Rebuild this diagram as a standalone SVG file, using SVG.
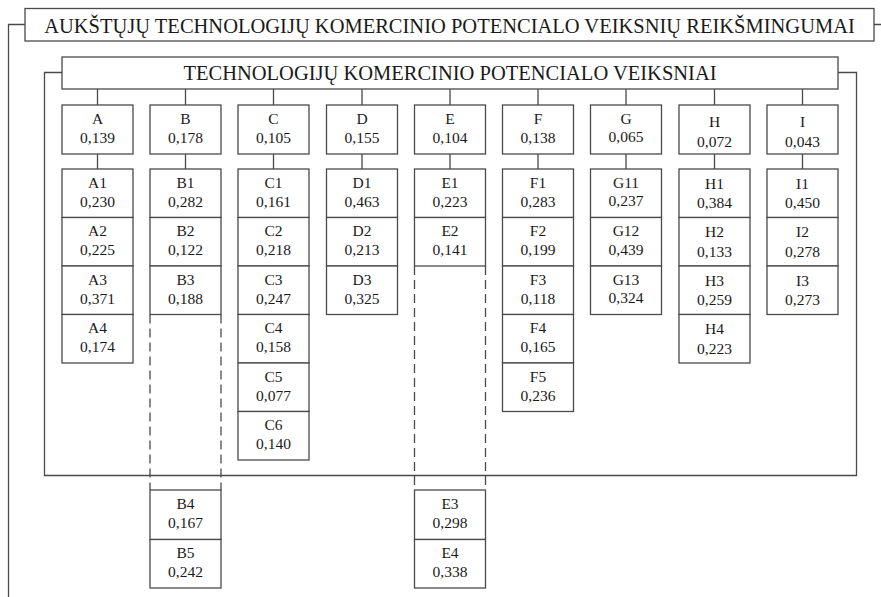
<svg xmlns="http://www.w3.org/2000/svg" width="881" height="597" viewBox="0 0 881 597">
<style>
rect{fill:#fff;stroke:#4a4a4a;stroke-width:1.3}
.ln{fill:none;stroke:#4a4a4a;stroke-width:1.3}
.dash{fill:none;stroke:#4a4a4a;stroke-width:1.3;stroke-dasharray:9,5}
text{fill:#1a1a1a;text-anchor:middle;font-family:Liberation Serif,Times New Roman,serif}
.t{font-size:20.5px;font-family:Liberation Serif,serif}
.n{font-size:15.5px;font-family:Liberation Serif,serif}
</style>
<rect width="881" height="597" style="fill:#fff;stroke:none"/>
<g id="connectors">
<path class="ln" d="M25,24.5H8.5V597M874,24.5H881"/>
<path class="ln" d="M62,72.5H44.5V475.5H856.5V72.5H838"/>
<path class="ln" d="M97.5,89V105M185.5,89V105M273.5,89V105M362,89V105M450,89V105M538,89V105M626,89V105M714.5,89V105M802.5,89V105"/>
<path class="ln" d="M97.5,154V169M185.5,154V169M273.5,154V169M362,154V169M450,154V169M538,154V169M626,154V169M714.5,154V169M802.5,154V169"/>
<path class="dash" d="M150,314.5V490M221,314.5V490M414.5,266V490M485.5,266V490"/>
</g>
<g id="title"><rect x="25" y="8.5" width="849" height="32.5"/><text class="t" x="449.5" y="32.5">AUKŠTŲJŲ TECHNOLOGIJŲ KOMERCINIO POTENCIALO VEIKSNIŲ REIKŠMINGUMAI</text></g>
<g id="factors"><rect x="62" y="57" width="776" height="32"/><text class="t" x="450" y="80">TECHNOLOGIJŲ KOMERCINIO POTENCIALO VEIKSNIAI</text></g>

<g id="A"><rect x="62" y="105" width="71" height="49"/><text class="n" x="97.5" y="124.3">A</text><text class="n" x="97.5" y="143.3">0,139</text></g>
<g id="B"><rect x="150" y="105" width="71" height="49"/><text class="n" x="185.5" y="124.3">B</text><text class="n" x="185.5" y="143.3">0,178</text></g>
<g id="C"><rect x="238" y="105" width="71" height="49"/><text class="n" x="273.5" y="124.3">C</text><text class="n" x="273.5" y="143.3">0,105</text></g>
<g id="D"><rect x="326.5" y="105" width="71" height="49"/><text class="n" x="362" y="124.3">D</text><text class="n" x="362" y="143.3">0,155</text></g>
<g id="E"><rect x="414.5" y="105" width="71" height="49"/><text class="n" x="450" y="124.3">E</text><text class="n" x="450" y="143.3">0,104</text></g>
<g id="F"><rect x="502.5" y="105" width="71" height="49"/><text class="n" x="538" y="124.3">F</text><text class="n" x="538" y="143.3">0,138</text></g>
<g id="G"><rect x="590.5" y="105" width="71" height="49"/><text class="n" x="626" y="123.5">G</text><text class="n" x="626" y="142">0,065</text></g>
<g id="H"><rect x="679" y="105" width="71" height="49"/><text class="n" x="714.5" y="126.5">H</text><text class="n" x="714.5" y="146.5">0,072</text></g>
<g id="I"><rect x="767" y="105" width="71" height="49"/><text class="n" x="802.5" y="126.5">I</text><text class="n" x="802.5" y="146.5">0,043</text></g>

<g id="A1"><rect x="62" y="169" width="71" height="48.5"/><text class="n" x="97.5" y="187.7">A1</text><text class="n" x="97.5" y="206.7">0,230</text></g>
<g id="A2"><rect x="62" y="217.5" width="71" height="48.5"/><text class="n" x="97.5" y="236.2">A2</text><text class="n" x="97.5" y="255.2">0,225</text></g>
<g id="A3"><rect x="62" y="266" width="71" height="48.5"/><text class="n" x="97.5" y="284.7">A3</text><text class="n" x="97.5" y="303.7">0,371</text></g>
<g id="A4"><rect x="62" y="314.5" width="71" height="48.5"/><text class="n" x="97.5" y="333.2">A4</text><text class="n" x="97.5" y="352.2">0,174</text></g>

<g id="B1"><rect x="150" y="169" width="71" height="48.5"/><text class="n" x="185.5" y="187.7">B1</text><text class="n" x="185.5" y="206.7">0,282</text></g>
<g id="B2"><rect x="150" y="217.5" width="71" height="48.5"/><text class="n" x="185.5" y="236.2">B2</text><text class="n" x="185.5" y="255.2">0,122</text></g>
<g id="B3"><rect x="150" y="266" width="71" height="48.5"/><text class="n" x="185.5" y="284.7">B3</text><text class="n" x="185.5" y="303.7">0,188</text></g>
<g id="B4"><rect x="150" y="490" width="71" height="49.5"/><text class="n" x="185.5" y="508.7">B4</text><text class="n" x="185.5" y="527.7">0,167</text></g>
<g id="B5"><rect x="150" y="539.5" width="71" height="48.5"/><text class="n" x="185.5" y="558.2">B5</text><text class="n" x="185.5" y="577.2">0,242</text></g>

<g id="C1"><rect x="238" y="169" width="71" height="48.5"/><text class="n" x="273.5" y="187.7">C1</text><text class="n" x="273.5" y="206.7">0,161</text></g>
<g id="C2"><rect x="238" y="217.5" width="71" height="48.5"/><text class="n" x="273.5" y="236.2">C2</text><text class="n" x="273.5" y="255.2">0,218</text></g>
<g id="C3"><rect x="238" y="266" width="71" height="48.5"/><text class="n" x="273.5" y="284.7">C3</text><text class="n" x="273.5" y="303.7">0,247</text></g>
<g id="C4"><rect x="238" y="314.5" width="71" height="48.5"/><text class="n" x="273.5" y="333.2">C4</text><text class="n" x="273.5" y="352.2">0,158</text></g>
<g id="C5"><rect x="238" y="363" width="71" height="48.5"/><text class="n" x="273.5" y="381.7">C5</text><text class="n" x="273.5" y="400.7">0,077</text></g>
<g id="C6"><rect x="238" y="411.5" width="71" height="48.5"/><text class="n" x="273.5" y="430.2">C6</text><text class="n" x="273.5" y="449.2">0,140</text></g>

<g id="D1"><rect x="326.5" y="169" width="71" height="48.5"/><text class="n" x="362" y="187.7">D1</text><text class="n" x="362" y="206.7">0,463</text></g>
<g id="D2"><rect x="326.5" y="217.5" width="71" height="48.5"/><text class="n" x="362" y="236.2">D2</text><text class="n" x="362" y="255.2">0,213</text></g>
<g id="D3"><rect x="326.5" y="266" width="71" height="48.5"/><text class="n" x="362" y="284.7">D3</text><text class="n" x="362" y="303.7">0,325</text></g>

<g id="E1"><rect x="414.5" y="169" width="71" height="48.5"/><text class="n" x="450" y="187.7">E1</text><text class="n" x="450" y="206.7">0,223</text></g>
<g id="E2"><rect x="414.5" y="217.5" width="71" height="48.5"/><text class="n" x="450" y="236.2">E2</text><text class="n" x="450" y="255.2">0,141</text></g>
<g id="E3"><rect x="414.5" y="490" width="71" height="49.5"/><text class="n" x="450" y="508.7">E3</text><text class="n" x="450" y="527.7">0,298</text></g>
<g id="E4"><rect x="414.5" y="539.5" width="71" height="48.5"/><text class="n" x="450" y="558.2">E4</text><text class="n" x="450" y="577.2">0,338</text></g>

<g id="F1"><rect x="502.5" y="169" width="71" height="48.5"/><text class="n" x="538" y="187.7">F1</text><text class="n" x="538" y="206.7">0,283</text></g>
<g id="F2"><rect x="502.5" y="217.5" width="71" height="48.5"/><text class="n" x="538" y="236.2">F2</text><text class="n" x="538" y="255.2">0,199</text></g>
<g id="F3"><rect x="502.5" y="266" width="71" height="48.5"/><text class="n" x="538" y="284.7">F3</text><text class="n" x="538" y="303.7">0,118</text></g>
<g id="F4"><rect x="502.5" y="314.5" width="71" height="48.5"/><text class="n" x="538" y="333.2">F4</text><text class="n" x="538" y="352.2">0,165</text></g>
<g id="F5"><rect x="502.5" y="363" width="71" height="48.5"/><text class="n" x="538" y="381.7">F5</text><text class="n" x="538" y="400.7">0,236</text></g>

<g id="G11"><rect x="590.5" y="169" width="71" height="48.5"/><text class="n" x="626" y="187.7">G11</text><text class="n" x="626" y="206">0,237</text></g>
<g id="G12"><rect x="590.5" y="217.5" width="71" height="48.5"/><text class="n" x="626" y="236.2">G12</text><text class="n" x="626" y="254.5">0,439</text></g>
<g id="G13"><rect x="590.5" y="266" width="71" height="48.5"/><text class="n" x="626" y="284.7">G13</text><text class="n" x="626" y="303">0,324</text></g>

<g id="H1"><rect x="679" y="169" width="71" height="48.5"/><text class="n" x="714.5" y="188.5">H1</text><text class="n" x="714.5" y="208.3">0,384</text></g>
<g id="H2"><rect x="679" y="217.5" width="71" height="48.5"/><text class="n" x="714.5" y="237">H2</text><text class="n" x="714.5" y="256.8">0,133</text></g>
<g id="H3"><rect x="679" y="266" width="71" height="48.5"/><text class="n" x="714.5" y="285.5">H3</text><text class="n" x="714.5" y="305.3">0,259</text></g>
<g id="H4"><rect x="679" y="314.5" width="71" height="48.5"/><text class="n" x="714.5" y="334">H4</text><text class="n" x="714.5" y="353.8">0,223</text></g>

<g id="I1"><rect x="767" y="169" width="71" height="48.5"/><text class="n" x="802.5" y="188.5">I1</text><text class="n" x="802.5" y="208.3">0,450</text></g>
<g id="I2"><rect x="767" y="217.5" width="71" height="48.5"/><text class="n" x="802.5" y="237">I2</text><text class="n" x="802.5" y="256.8">0,278</text></g>
<g id="I3"><rect x="767" y="266" width="71" height="48.5"/><text class="n" x="802.5" y="285.5">I3</text><text class="n" x="802.5" y="305.3">0,273</text></g>
</svg>
